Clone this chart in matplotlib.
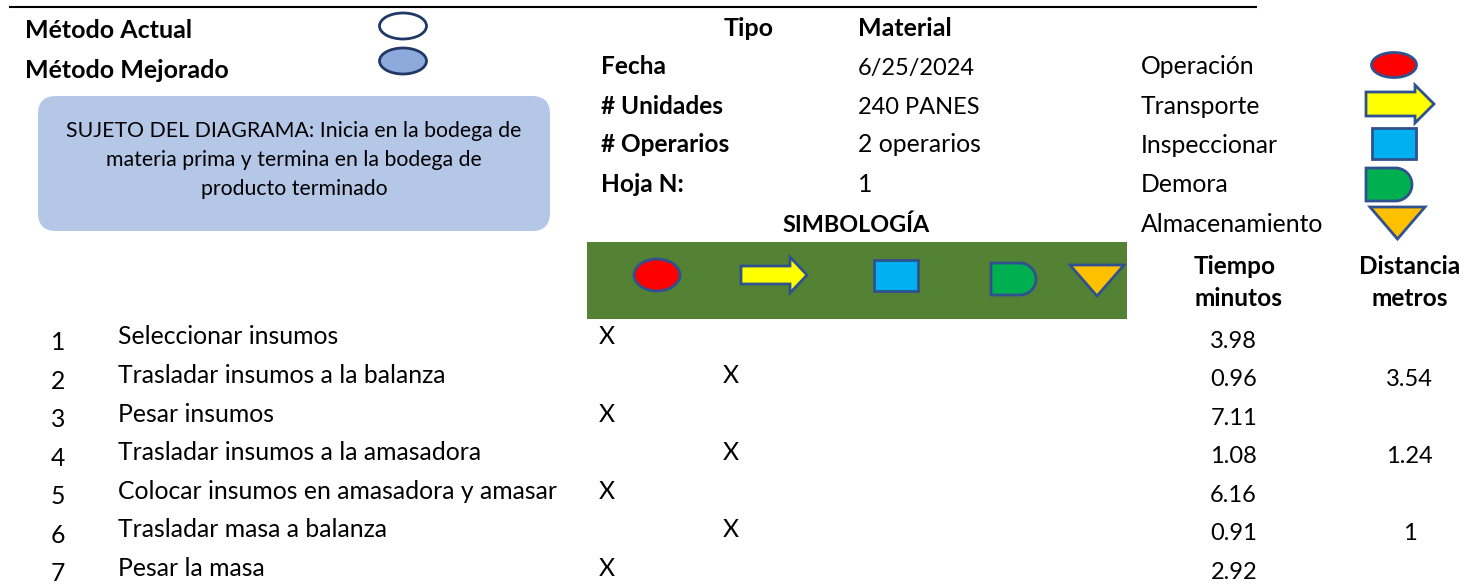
import matplotlib
matplotlib.use("Agg")
import matplotlib.pyplot as plt
from matplotlib.patches import Ellipse, Rectangle, Polygon, FancyBboxPatch, PathPatch
from matplotlib.path import Path

plt.rcParams["font.family"] = ["Lato", "DejaVu Sans"]

# datos de la tabla
pasos = ["Seleccionar insumos", "Trasladar insumos a la balanza", "Pesar insumos",
         "Trasladar insumos a la amasadora", "Colocar insumos en amasadora y amasar",
         "Trasladar masa a balanza", "Pesar la masa"]
simbolo = [0, 1, 0, 1, 0, 1, 0]
tiempos = ["3.98", "0.96", "7.11", "1.08", "6.16", "0.91", "2.92"]
distancias = ["", "3.54", "", "1.24", "", "1", ""]
info_labels = ["Fecha", "# Unidades", "# Operarios", "Hoja N:"]
info_values = ["6/25/2024", "240 PANES", "2 operarios", "1"]
leyenda = ["Operación", "Transporte", "Inspeccionar", "Demora", "Almacenamiento"]
sujeto = ("SUJETO DEL DIAGRAMA: Inicia en la bodega de\n"
          "materia prima y termina en la bodega de\nproducto terminado")

FS = 17.8
FS_B = 18.0
FS_NUM = 17.0
BORDE = "#2F528F"


def texto(ax, x, y, s, bold=False, ha="left", size=None):
    # y es el centro de la linea, se pasa a linea base para que no salte con los acentos
    if size is None:
        size = FS_B if bold else FS
    ax.text(x, y + 8.5, s, fontsize=size, ha=ha, va="baseline", color="black",
            fontweight="bold" if bold else "normal")


def elipse(ax, cx, cy, w, h, color, borde=BORDE):
    ax.add_patch(Ellipse((cx, cy), w, h, fc=color, ec=borde, lw=2))


def flecha(ax, x0, x1, cy, h_cuerpo, h_punta, punta):
    pts = [(x0, cy - h_cuerpo / 2), (x1 - punta, cy - h_cuerpo / 2), (x1 - punta, cy - h_punta / 2),
           (x1, cy), (x1 - punta, cy + h_punta / 2), (x1 - punta, cy + h_cuerpo / 2),
           (x0, cy + h_cuerpo / 2)]
    ax.add_patch(Polygon(pts, closed=True, fc="#FFFF00", ec=BORDE, lw=2))


def cuadro(ax, x0, y0, w, h):
    ax.add_patch(Rectangle((x0, y0), w, h, fc="#00B0F0", ec=BORDE, lw=2))


def demora(ax, x0, x1, y0, y1):
    r = (y1 - y0) / 2
    xm = x1 - r
    codes = [Path.MOVETO, Path.LINETO, Path.CURVE4, Path.CURVE4, Path.CURVE4,
             Path.CURVE4, Path.CURVE4, Path.CURVE4, Path.LINETO, Path.CLOSEPOLY]
    k = 0.55 * r
    verts = [(x0, y0), (xm, y0), (xm + k, y0), (x1, y0 + r - k), (x1, y0 + r),
             (x1, y0 + r + k), (xm + k, y1), (xm, y1), (x0, y1), (x0, y0)]
    ax.add_patch(PathPatch(Path(verts, codes), fc="#00B050", ec=BORDE, lw=2))


def triangulo(ax, x0, x1, y0, y1):
    ax.add_patch(Polygon([(x0, y0), (x1, y0), ((x0 + x1) / 2, y1)], closed=True,
                         fc="#FFC000", ec=BORDE, lw=2))


fig = plt.figure(figsize=(14.76, 5.85), dpi=100)
ax = fig.add_axes([0, 0, 1, 1])
ax.set_xlim(0, 1476)
ax.set_ylim(585, 0)
ax.axis("off")

# encabezado
ax.plot([10, 1256], [7, 7], color="black", lw=1.5)
texto(ax, 25, 29, "Método Actual", True)
texto(ax, 25, 69, "Método Mejorado", True)
elipse(ax, 403, 26, 47, 26, "white", "#1F3864")
elipse(ax, 403, 61, 47, 26, "#8EA9DB", "#1F3864")
ax.add_patch(FancyBboxPatch((38, 96), 512, 135, boxstyle="round,pad=0,rounding_size=18",
                            fc="#B4C7E7", ec="none"))
ax.text(294, 160, sujeto, fontsize=15.3, ha="center", va="center", linespacing=1.58)

texto(ax, 749, 27, "Tipo", True, "center")
texto(ax, 858, 27, "Material", True)
for i, (a, b) in enumerate(zip(info_labels, info_values)):
    y = 66 + i * 39
    texto(ax, 601, y, a, True, size=17.6)
    texto(ax, 858, y, b, size=FS_NUM if i < 2 else FS)
texto(ax, 856, 224, "SIMBOLOGÍA", True, "center", size=16.8)

# leyenda derecha
for i, s in enumerate(leyenda):
    texto(ax, 1141, 66 + i * 39.3, s)
elipse(ax, 1394, 65, 45, 25, "#FF0000")
flecha(ax, 1366, 1434, 104, 24, 38, 19)
cuadro(ax, 1372, 128, 44, 31)
demora(ax, 1366, 1412, 168, 201)
triangulo(ax, 1370, 1425, 207, 239)

# banda verde
ax.add_patch(Rectangle((587, 242), 540, 77, fc="#548235", ec="none"))
elipse(ax, 657, 275, 46, 32, "#FF0000")
flecha(ax, 741, 807, 275, 18, 36, 17)
cuadro(ax, 874, 260, 44, 31)
demora(ax, 991, 1036, 263, 295)
triangulo(ax, 1070, 1124, 265, 296)

texto(ax, 1235, 266, "Tiempo", True, "center", size=17.6)
texto(ax, 1238, 298, "minutos", True, "center", size=17.6)
texto(ax, 1410, 266, "Distancia", True, "center", size=17.6)
texto(ax, 1410, 298, "metros", True, "center", size=17.6)

# filas
col_x = [607, 731]
for i, paso in enumerate(pasos):
    y = 336 + i * 38.55
    texto(ax, 58, y + 5.5, str(i + 1), ha="center")
    texto(ax, 118, y, paso)
    texto(ax, col_x[simbolo[i]], y, "X", ha="center")
    texto(ax, 1257, y + 3, tiempos[i], ha="right", size=FS_NUM)
    if len(distancias[i]) > 1:
        texto(ax, 1433, y + 3, distancias[i], ha="right", size=FS_NUM)
    else:
        texto(ax, 1410, y + 3, distancias[i], ha="center", size=FS_NUM)

fig.savefig("out.png", dpi=100)
